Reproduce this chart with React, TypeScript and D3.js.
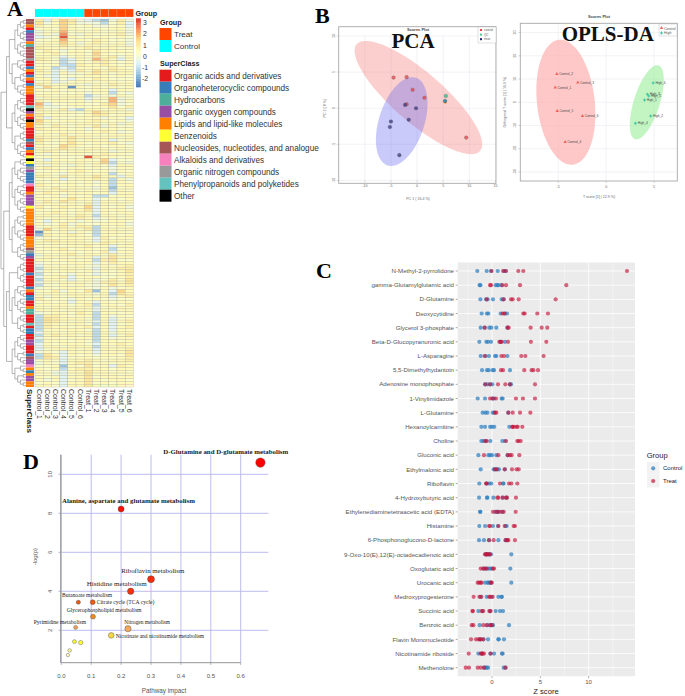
import React from "react";
import * as d3 from "d3";

// ---- Panel A data ----
const sampleNames = ["Control_1", "Control_2", "Control_3", "Control_4", "Control_5", "Control_6", "Treat_1", "Treat_2", "Treat_3", "Treat_4", "Treat_5", "Treat_6"];
const zLevels: Record<string, number> = { a: -2.3, b: -1.6, c: -1.1, d: -0.6, e: -0.15, f: 0.2, g: 0.5, h: 0.85, i: 1.15, j: 1.5, k: 1.9, l: 2.4, m: 3.0 };
// one string per metabolite, one letter per sample, letters are zLevels
const heatRows = [
  "hdgjhedcbehe", "iegjheeecfhd", "hfgjgfgeefgd", "fgfjgffgfgge", "efgkfgfgffge", "egelfegffghe", "defmgfgfgfgf", "ffgkfgfhgffe", "fggjgeghgfge", "ggfigfggfgge",
  "hgggfghgggfg", "fhgeggfigggf", "gghfggfjgffg", "ggfdfgfigheg", "hgfcdgfkhgdg", "ggfcdgfhhgfg", "gfgcchgghgfg", "ggcdcgggfhgf", "hfdfdhfighgg", "ggdgefgigfgg",
  "gedfffgggfgf", "ggdfdgfhgfff", "fgdefggfggfg", "hgfggfegfhgg", "ejggagfgfgfg", "gfgfgffggdgg", "fggffgeggcfe", "ggfgggcefegf", "fgggggdfgkef", "hfggfgegfkeg",
  "kdffggffhjef", "jeeffgfggifh", "hffhdcggfgge", "gggfgfgjhgfg", "ifggffgihfgg", "hdgffgggegfd", "jgfggfghgfge", "ifgffgggfgeg", "gfhgfgfiegff", "hgggfgegggfg",
  "fgggggfghgef", "ggfhfgggfggg", "hgggiggfggfg", "igfghfgggdfg", "hffgigfgghfe", "ggfjhgfgfggf", "gfgigfgggfgf", "ghgfgggfgefg", "gegfggfghggf", "fggfffmhggfg",
  "fdggfggfjdff", "gggfggfgjcfe", "fegfegfgfdgg", "ghgfggfgfegg", "ffgfghgfgegf", "ggfeggfggcfg", "hgfifggiggdg", "ffgdfgghgcge", "gfgfgfgegcgf", "hgfggfgfgcgg",
  "gfhfggfegbfg", "fgghgfgfgcgf", "ghgfgggfgdgg", "gfgegfgccfgg", "ggggiggdfgfg", "fhfigfgdggfg", "gggfgfhdgfgf", "hfghggjdgfge", "gfggfgidgggf", "fghgfggdgfgg",
  "ggfgfhgcggfg", "gfggghgdfgfg", "fdgfgegefggf", "gefhegffggge", "fgghfhhcgfgf", "ejfggfhcggfg", "agfgegfcgggf", "bhgghgfcggfg", "egfggggdhfgg", "fhhgggfdgggf",
  "gfgggggfhgfg", "fggfgghfgdgg", "fgghfggfgcfg", "gfgggfgfhdgg", "egfghfggfhfg", "fgggfggdgigg", "ggfggfgchiff", "efgfgggdghgg", "dgfgfgfegfgh", "cgggggfdgghh",
  "dgfggfgegfgi", "cfgfegfdffgh", "dgghdgggffgh", "cggfdfgefhfi", "dgfgggfehhgi", "cffgfgfefigh", "egfgggfegefg", "gfhegfibgdjg", "fggfgggegcig", "gegfgggfgdgh",
  "hfgfegfgfeff", "fgfgdggdgfgg", "ggggfghcggfh", "gfggfggdfggg", "gggfgggdgfgg", "efggfhgcggfg", "chhgfggcgegf", "cihgggfcgdfg", "cihgfgfdgdgh", "chgfggfcgdfg",
  "chggfghdgdgh", "cgggggfcgdgg", "dggfgggcgegg", "cghggfgcgdfh", "dggfgggcgegg", "cgggfgfcggfg", "dgfgggfdgghg", "dggfgggcgfgg", "dfgggfgdgggh", "egfdgggdgggi",
  "cigdgfgeggfi", "cihdfggfgfgh", "fgfdgghgfggh", "egfdghhfgfgg", "ffgbgfifgdhg", "gfgcghhggfgg", "gfedggiggfgf", "fgedfgifggfg", "gfgdggifgggg", "gegdfgigfggf",
  "fgfdggifgfgg", "ggfdggigfggf",
];
const superClassCodes = "NNLABOOOLH" + "NNNNGAABLA" + "BLABLLLAAA" + "APXOLAXLLA" + "AAABNABLAZ" + "XZBGOBBBBK" + "AALOOOOZLL" + "LLLLAAAALL" + "LLNGBOAAAA" + "ABAAAABLAB" + "BAALHHAAAP" + "ABBAAOOAAA" + "BNOOKLBLOOLL";
const superClassLegend = [
  ["A", "Organic acids and derivatives", "#e41a1c"],
  ["B", "Organoheterocyclic compounds", "#377eb8"],
  ["H", "Hydrocarbons", "#4daf9a"],
  ["O", "Organic oxygen compounds", "#984ea3"],
  ["L", "Lipids and lipid-like molecules", "#ff7f00"],
  ["Z", "Benzenoids", "#ffff33"],
  ["N", "Nucleosides, nucleotides, and analogue", "#a65656"],
  ["K", "Alkaloids and derivatives", "#f781bf"],
  ["G", "Organic nitrogen compounds", "#999999"],
  ["P", "Phenylpropanoids and polyketides", "#66c2bd"],
  ["X", "Other", "#000000"],
];
const dendroTree = [
  [[[8, 6], [5, 9]], [[6, 6], [4, 6]]],
  [[[[3, 6], [5, 6]], [[5, 5], [4, 3]]], [[[4, 4], [11, 7]], [[6, 5], [3, 5]]]],
];

// ---- Panel B data ----
const pcaControl = [[-4.5, 4.24], [-2, 4.3], [-0.85, 2.55], [1.4, 1.45], [-2, 0.55], [9.4, -4.07]];
const pcaTreat = [[-2.3, 0.46], [-0.2, 0], [-5, -1.85], [-1.6, -1.6], [-5.2, -2.6], [-3.4, -6.5]];
const pcaQC = [[5.5, 1.7], [5.35, 1.0], [5.38, 0.85]];
const oplsControl: [string, number, number][] = [["Control_2", -5.14, 12.2], ["Control_3", -2.95, 8.5], ["Control_1", -5.31, 6.4], ["Control_5", -5.1, -3.75], ["Control_6", -2.47, -5.9], ["Control_4", -4.27, -17.1]];
const oplsHigh: [string, number, number][] = [["High_6", 4.9, 8.3], ["High_3", 4.3, 3.4], ["High_5", 4.44, 2.7], ["High_1", 4.0, 1], ["High_2", 4.65, -5.9], ["High_4", 3.05, -9.07]];

// ---- Panel C data ----
const metabolites = ["N-Methyl-2-pyrrolidone", "gamma-Glutamylglutamic acid", "D-Glutamine", "Deoxycytidine", "Glycerol 3-phosphate", "Beta-D-Glucopyranuronic acid", "L-Asparagine", "5,5-Dimethylhydantoin", "Adenosine monophosphate", "1-Vinylimidazole", "L-Glutamine", "Hexanoylcarnitine", "Choline", "Gluconic acid", "Ethylmalonic acid", "Riboflavin", "4-Hydroxybutyric acid", "Ethylenediaminetetraacetic acid (EDTA)", "Histamine", "6-Phosphonoglucono-D-lactone", "9-Oxo-10(E),12(E)-octadecadienoic acid", "Oxoglutaric acid", "Urocanic acid", "Medroxyprogesterone", "Succinic acid", "Benzoic acid", "Flavin Mononucleotide", "Nicotinamide riboside", "Methenolone"];
const zControl = [
  [-1.52, -0.55, -0.1, 0.59, 1.25, 1.4], [-1.28, -1.2, 0.38, 0.55, 0.65, 0.97], [-1.2, -0.62, -0.45, 0.1, 1, 1.2], [-1.07, -0.52, -0.38, 0.9, 1.34, 1.55], [-1.17, -0.75, -0.28, -0.07, 0.45, 1.6],
  [-1.31, -0.59, -0.41, -0.1, 0.85, 1.34], [-1.17, -0.66, -0.31, 0.31, 0.45, 1.59], [-1.03, -0.52, -0.34, 0.07, 0.21, 1.86], [-0.72, -0.48, -0.2, 0.03, 1.86, 1.97], [-1.48, -0.72, 0.07, 0.21, 1, 1.1],
  [-0.97, -0.69, -0.48, 0.07, 0.24, 1.69], [-1.1, -0.72, -0.2, 0, 0.24, 1.79], [-1.1, -0.9, -0.62, -0.17, 1.07, 1.34], [-1.41, -0.38, -0.2, 0, 0.45, 1.62], [-1.17, 0.17, 0.31, 0.55, 0.72, 1.34],
  [-1.31, -0.55, -0.3, -0.07, 1.17, 1.17], [-1.34, -0.52, -0.48, 0.14, 1.1, 1.5], [-1.24, -1.2, 0.34, 0.55, 0.66, 1.1], [-1.31, -0.72, 0.1, 0.62, 1.41, 1.52], [-1.34, -0.83, -0.31, 0.66, 1.41, 1.52],
  [-0.66, -0.55, -0.38, -0.28, -0.1, 2], [-0.9, -0.62, -0.38, -0.2, -0.03, 1.9], [-0.72, -0.45, -0.38, -0.2, -0.07, 2], [-1.17, -0.55, -0.03, 0.66, 0.97, 1.03], [-1.41, -1, -0.2, 0.38, 0.83, 1.14],
  [-1.28, -0.48, -0.2, -0.03, 0.1, 1.76], [-1.24, -0.9, -0.41, 0.66, 0.69, 1.24], [-1.41, -1.07, -0.17, 0.21, 1.03, 1.1], [-0.83, -0.66, -0.55, -0.41, 1.21, 1.38],
];
const zTreat = [
  [-0.05, 1.15, 1.45, 2.72, 3.24, 13.97], [-0.2, -0.1, 1.07, 1.45, 2.9, 7.69], [-0.55, 1.2, 1.97, 2.14, 2.76, 6.59], [1.1, 1.28, 3.24, 3.38, 4.69, 5.79], [-0.76, 1.6, 1.72, 4, 5.14, 5.72],
  [0.76, 0.93, 1, 1.66, 4.03, 5.62], [-0.76, 0.97, 1.24, 3.03, 3.45, 5.34], [0.93, 1.14, 3.34, 4.1, 4.28, 4.76], [-0.69, -0.2, 0.62, 1.38, 1.86, 4.45], [-0.2, 0.07, 0.41, 2.48, 3.2, 4.45],
  [0.31, 0.45, 1.69, 2.14, 2.9, 3.97], [2.1, 2.14, 2.28, 2.55, 2.66, 3.14], [-0.72, -0.55, 1.45, 2.62, 2.76, 2.97], [-0.83, 0.66, 1.62, 1.86, 2.03, 2.83], [0.31, 0.48, 1.31, 2.07, 2.55, 2.76],
  [-0.62, -0.55, 0.83, 1.76, 2, 2.62], [0.55, 0.66, 1.1, 1.45, 1.55, 2.48], [0.1, 0.45, 0.69, 0.97, 1.21, 2.45], [-0.31, -0.2, 0.66, 1.31, 2.24, 2.38], [-0.31, 0.17, 1.41, 1.59, 1.69, 2.38],
  [-0.72, -0.62, -0.55, -0.48, -0.31, -0.2], [-1.17, -0.9, -0.72, -0.55, 0.1, 0.21], [-1.48, -1.34, -1.17, -1.1, -0.14, -0.03], [-1.9, -1.31, -1.1, -0.28, -0.2, 0.07], [-2.03, -1.97, -1.07, -0.9, -0.28, -0.14],
  [-2.1, -1.93, -0.9, -0.55, -0.17, 0], [-2.17, -1.66, -1.41, -1.24, -1.17, -0.9], [-2.41, -1.17, -1.03, -0.97, -0.83, -0.14], [-2.72, -2.38, -1.48, -1.17, -0.83, 1.41],
];

// ---- Panel D data ----
const pathways: [number, number][] = [[0.666, 10.6], [0.2, 8.22], [0.3, 4.62], [0.232, 4], [0.057, 3.44], [0.105, 3.44], [0.106, 2.7], [0.048, 2.15], [0.223, 2.08], [0.167, 1.74], [0.044, 1.42], [0.065, 1.37], [0.028, 0.97], [0.022, 0.73]];
const pathwayLabels: [string, number, number, number, boolean][] = [
  ["D-Glutamine and D-glutamate metabolism", 163.3, 454, 6.85, true],
  ["Alanine, aspartate and glutamate metabolism", 62, 502.7, 6.85, true],
  ["Riboflavin metabolism", 121.3, 573.3, 6.85, false],
  ["Histidine metabolism", 86.7, 586, 7, false],
  ["Butanoate metabolism", 62, 597.3, 5.6, false],
  ["Citrate cycle (TCA cycle)", 96.7, 604, 5.6, false],
  ["Glycerophospholipid metabolism", 66.7, 611.7, 5.6, false],
  ["Pyrimidine metabolism", 33.7, 623.7, 5.6, false],
  ["Nitrogen metabolism", 124.3, 624, 5.4, false],
  ["Nicotinate and nicotinamide metabolism", 115.7, 637.7, 5.45, false],
];

const SANS = "'Liberation Sans', Arial, sans-serif";
const SERIF = "'Liberation Serif', 'Times New Roman', serif";

// ellipse through the scales: centre plus two conjugate half-axes in data units
const ellipsePath = (
  c: number[], a: number[], b: number[],
  x: d3.ScaleLinear<number, number>, y: d3.ScaleLinear<number, number>
) =>
  d3.line<number>()
    .x((t) => x(c[0] + Math.cos(t) * a[0] + Math.sin(t) * b[0]))
    .y((t) => y(c[1] + Math.cos(t) * a[1] + Math.sin(t) * b[1]))
    .curve(d3.curveLinearClosed)(d3.range(0, Math.PI * 2, 0.05)) as string;

const expandLeaves = (n: any): any => {
  if (Array.isArray(n)) return n.map(expandLeaves);
  if (n <= 1) return 1;
  return [expandLeaves(Math.floor(n / 2)), expandLeaves(Math.ceil(n / 2))];
};

const Heatmap = () => {
  const left = 35, right = 133.4, top = 19, bottom = 387;
  const x = d3.scaleBand<number>().domain(d3.range(12)).range([left, right]);
  const y = d3.scaleBand<number>().domain(d3.range(heatRows.length)).range([top, bottom]);
  const color = d3.scaleLinear<string>()
    .domain([-2.7, -1.68, -0.67, 0.35, 1.37, 2.38, 3.4])
    .range(["#4575b4", "#91bfdb", "#e0f3f8", "#ffffbf", "#fee090", "#fc8d59", "#d73027"]);
  const legendY = d3.scaleLinear().domain([-2.7, 3.4]).range([87, 18.3]);
  const classColor = new Map(superClassLegend.map((d) => [d[0], d[2]]));

  const root = d3.hierarchy<any>(expandLeaves(dendroTree), (d) => (Array.isArray(d) ? d : null));
  d3.cluster<any>().size([bottom - top, 25]).separation(() => 1)(root);

  return (
    <g fontFamily={SANS}>
      <g fill="none" stroke="#777" strokeWidth={0.55}>
        {root.links().map((l: any, i: number) => (
          <path key={i} d={`M${1 + l.source.y},${top + l.source.x}V${top + l.target.x}H${1 + l.target.y}`} />
        ))}
      </g>
      {sampleNames.map((s, j) => (
        <rect key={s} x={x(j)} y={9} width={x.bandwidth()} height={8} fill={j < 6 ? "#00ffff" : "#ff4500"} stroke="#c8c8c8" strokeWidth={0.25} />
      ))}
      {Array.from(superClassCodes).map((c, i) => (
        <rect key={i} x={26} y={y(i)} width={8} height={y.bandwidth()} fill={classColor.get(c)} />
      ))}
      {heatRows.map((row, i) =>
        Array.from(row).map((c, j) => (
          <rect key={`${i}-${j}`} x={x(j)} y={y(i)} width={x.bandwidth()} height={y.bandwidth()}
            fill={color(zLevels[c])} stroke="#b5b09a" strokeWidth={0.35} />
        ))
      )}
      <text x={135.5} y={15.5} fontSize={7.2} fontWeight="bold" fill="#222">Group</text>
      {d3.range(0, 40).map((i) => {
        const z = -2.7 + (i / 40) * 6.1;
        return <rect key={i} x={136} y={legendY(z + 6.1 / 40)} width={4.8} height={68.7 / 40 + 0.3} fill={color(z)} />;
      })}
      {[3, 2, 1, 0, -1, -2].map((t) => (
        <text key={t} x={t < 0 ? 142 : 143} y={legendY(t)} dy="0.35em" fontSize={6.8} fill="#333">{t}</text>
      ))}
      <text x={160} y={24.5} fontSize={7.2} fontWeight="bold" fill="#222">Group</text>
      {[["Treat", "#ff4500"], ["Control", "#00ffff"]].map((d, i) => (
        <g key={d[0]}>
          <rect x={159.5} y={28 + i * 12} width={12} height={12} fill={d[1]} />
          <text x={174} y={34 + i * 12} dy="0.35em" fontSize={8.1} fill="#333">{d[0]}</text>
        </g>
      ))}
      <text x={160} y={66} fontSize={7.2} fontWeight="bold" fill="#222">SuperClass</text>
      {superClassLegend.map((d, i) => (
        <g key={d[0]}>
          <rect x={159.5} y={69.7 + i * 12} width={12} height={12} fill={d[2]} />
          <text x={174} y={75.7 + i * 12} dy="0.35em" fontSize={8.2} fill="#333">{d[1]}</text>
        </g>
      ))}
      <text transform="translate(30,389) rotate(90)" dy="0.35em" fontSize={8} fontWeight="bold" fill="#222">SuperClass</text>
      {sampleNames.map((s, j) => (
        <text key={s} transform={`translate(${x(j)! + x.bandwidth() / 2},389) rotate(90)`} dy="0.35em" fontSize={6.9} fill="#333">{s}</text>
      ))}
    </g>
  );
};

const ScoreFrame = ({ x, y, xTicks, yTicks, title, xLabel, yLabel, titleX, labelX, labelY, yLabelX }: any) => {
  const [x0, x1] = x.range();
  const [y1, y0] = y.range();
  return (
    <g fontFamily={SANS} fill="#666">
      <rect x={x0} y={y0} width={x1 - x0} height={y1 - y0} fill="#fff" />
      {xTicks.map((t: number) => <line key={t} x1={x(t)} x2={x(t)} y1={y0} y2={y1} stroke="#ececf2" strokeWidth={0.7} />)}
      {yTicks.map((t: number) => <line key={t} x1={x0} x2={x1} y1={y(t)} y2={y(t)} stroke="#ececf2" strokeWidth={0.7} />)}
      {xTicks.map((t: number) => (
        <g key={t}>
          <line x1={x(t)} x2={x(t)} y1={y1} y2={y1 + 2} stroke="#999" strokeWidth={0.4} />
          <text x={x(t)} y={y1 + 7} textAnchor="middle" fontSize={3.6}>{t}</text>
        </g>
      ))}
      {yTicks.map((t: number) => (
        <g key={t}>
          <line x1={x0 - 2} x2={x0} y1={y(t)} y2={y(t)} stroke="#999" strokeWidth={0.4} />
          <text transform={`translate(${x0 - 4},${y(t)}) rotate(-90)`} textAnchor="middle" fontSize={3.6}>{t}</text>
        </g>
      ))}
      <text x={titleX} y={y0 - 5.5} textAnchor="middle" fontSize={4} fontWeight="bold" fill="#444">{title}</text>
      <text x={labelX} y={labelY} textAnchor="middle" fontSize={3.6}>{xLabel}</text>
      <text transform={`translate(${yLabelX},${(y0 + y1) / 2}) rotate(-90)`} textAnchor="middle" fontSize={3.6}>{yLabel}</text>
    </g>
  );
};

const PcaPlot = () => {
  const x = d3.scaleLinear().domain([-15, 15.1]).range([338.7, 496]);
  const y = d3.scaleLinear().domain([-10, 10]).range([180.4, 36]);
  return (
    <g>
      <ScoreFrame x={x} y={y} xTicks={[-10, -5, 0, 5, 10, 15]} yTicks={[-10, -5, 0, 5, 10]} title="Scores Plot"
        xLabel="PC 1 ( 16.4 %)" yLabel="PC 2 ( 8 %)" titleX={418} labelX={418} labelY={200} yLabelX={326} />
      <path d={ellipsePath([0.25, 1.48], [11.8, -7.39], [3.13, 2.63], x, y)} fill="#f47a74" fillOpacity={0.36} />
      <path d={ellipsePath([-2.94, -1.85], [-2.71, -6.07], [4.13, -0.97], x, y)} fill="#6a6af0" fillOpacity={0.36} />
      {pcaControl.map((d, i) => <circle key={i} cx={x(d[0])} cy={y(d[1])} r={1.8} fill="#e8434a" fillOpacity={0.75} stroke="#555" strokeWidth={0.3} />)}
      {pcaTreat.map((d, i) => <circle key={i} cx={x(d[0])} cy={y(d[1])} r={1.8} fill="#3a3a80" fillOpacity={0.75} stroke="#444" strokeWidth={0.3} />)}
      <circle cx={x(pcaQC[2][0])} cy={y(pcaQC[2][1])} r={1.8} fill="#f59a3c" />
      <circle cx={x(pcaQC[1][0])} cy={y(pcaQC[1][1])} r={1.8} fill="#2f8fb0" stroke="#444" strokeWidth={0.3} />
      <circle cx={x(pcaQC[0][0])} cy={y(pcaQC[0][1])} r={1.8} fill="#52c898" stroke="#555" strokeWidth={0.3} />
      <rect x={x.range()[0]} y={26.7} width={x.range()[1] - x.range()[0]} height={156.6} fill="none" stroke="#a8a8a8" strokeWidth={0.9} />
      <g fontFamily={SANS} fontSize={3} fill="#555">
        <rect x={478} y={27} width={18} height={16} fill="#fff" stroke="#999" strokeWidth={0.3} />
        {[["control", "#e8434a"], ["QC", "#52c898"], ["treat", "#22226e"]].map((d, i) => (
          <g key={d[0]}>
            <rect x={480} y={29 + i * 4.6} width={2} height={2} fill={d[1]} />
            <text x={484} y={31 + i * 4.6}>{d[0]}</text>
          </g>
        ))}
      </g>
      <text x={391.5} y={48} fontFamily={SERIF} fontWeight="bold" fontSize={21} fill="#111">PCA</text>
    </g>
  );
};

const OplsPlot = () => {
  const x = d3.scaleLinear().domain([-8.95, 7.42]).range([520.3, 677.3]);
  const y = d3.scaleLinear().domain([-33.9, 34]).range([181, 23.3]);
  const triangle = d3.symbol().type(d3.symbolTriangle).size(5);
  return (
    <g>
      <ScoreFrame x={x} y={y} xTicks={[-5, 0, 5]} yTicks={[-30, -20, -10, 0, 10, 20, 30]} title="Scores Plot"
        xLabel="T score [1] | 12.9 %)" yLabel="Orthogonal T score [1] | 19.9 %)" titleX={599} labelX={599} labelY={198} yLabelX={506} />
      <path d={ellipsePath([-4.2, 0], [0.73, -26.9], [2.99, 1.38], x, y)} fill="#ff9a9a" fillOpacity={0.55} />
      <path d={ellipsePath([4.24, 0], [-1.215, -15.9], [1.29, -1.68], x, y)} fill="#9aee9a" fillOpacity={0.6} />
      <g fontFamily={SANS} fontSize={3.2} fill="#444">
        {oplsControl.map((d) => (
          <g key={d[0]} transform={`translate(${x(d[1])},${y(d[2])})`}>
            <path d={triangle() as string} fill="#f0645a" />
            <text x={2.3} dy="0.35em">{d[0]}</text>
          </g>
        ))}
        {oplsHigh.map((d) => (
          <g key={d[0]} transform={`translate(${x(d[1])},${y(d[2])})`}>
            <path d={d3.symbol().type(d3.symbolCross).size(5)() as string} fill="#39c6a8" />
            <text x={2.3} dy="0.35em">{d[0]}</text>
          </g>
        ))}
      </g>
      <rect x={520.3} y={23.3} width={157} height={157.7} fill="none" stroke="#a8a8a8" strokeWidth={0.9} />
      <g fontFamily={SANS} fontSize={3.6} fill="#555">
        <rect x={659} y={24} width={18} height={12} fill="#fff" stroke="#999" strokeWidth={0.3} />
        <path transform="translate(661.5,28)" d={triangle() as string} fill="#f0645a" />
        <text x={664} y={29.5}>Control</text>
        <path transform="translate(661.5,33)" d={d3.symbol().type(d3.symbolCross).size(5)() as string} fill="#39c6a8" />
        <text x={664} y={34}>High</text>
      </g>
      <text x={561.7} y={40.7} fontFamily={SERIF} fontWeight="bold" fontSize={21} fill="#111">OPLS-DA</text>
    </g>
  );
};

const ZScorePlot = () => {
  const x = d3.scaleLinear().domain([-3.55, 14.8]).range([457.7, 635]);
  const y = d3.scalePoint<string>().domain(metabolites).range([271, 667.7]);
  const top = 262.5, bottom = 676.2;
  return (
    <g fontFamily={SANS}>
      <rect x={457.7} y={top} width={177.3} height={bottom - top} fill="#ebebeb" />
      {[-2.5, 2.5, 7.5, 12.5].map((t) => <line key={t} x1={x(t)} x2={x(t)} y1={top} y2={bottom} stroke="#fff" strokeWidth={0.4} />)}
      {[0, 5, 10].map((t) => <line key={t} x1={x(t)} x2={x(t)} y1={top} y2={bottom} stroke="#fff" strokeWidth={0.8} />)}
      {metabolites.map((m) => <line key={m} x1={457.7} x2={635} y1={y(m)} y2={y(m)} stroke="#fff" strokeWidth={0.8} />)}
      {metabolites.map((m, i) => (
        <g key={m}>
          {zControl[i].map((v, k) => <circle key={k} cx={x(v)} cy={y(m)} r={2.1} fill="#2f80c0" fillOpacity={0.72} />)}
          {zTreat[i].map((v, k) => <circle key={k} cx={x(v)} cy={y(m)} r={2.1} fill="#c4153c" fillOpacity={0.65} />)}
          <line x1={455.7} x2={457.7} y1={y(m)} y2={y(m)} stroke="#555" strokeWidth={0.5} />
          <text x={454} y={y(m)} dy="0.35em" textAnchor="end" fontSize={6.15} fill="#555">{m}</text>
        </g>
      ))}
      {[0, 5, 10].map((t) => (
        <g key={t}>
          <line x1={x(t)} x2={x(t)} y1={bottom} y2={bottom + 2} stroke="#555" strokeWidth={0.5} />
          <text x={x(t)} y={682} dy="0.35em" textAnchor="middle" fontSize={6} fill="#555">{t}</text>
        </g>
      ))}
      <text x={546} y={691} dy="0.35em" textAnchor="middle" fontSize={7.6} fill="#222">Z score</text>
      <text x={646.7} y={458} fontSize={7.6} fill="#222">Group</text>
      {[["Control", "#2f80c0", 0.75], ["Treat", "#c4153c", 0.7]].map((d: any, i) => (
        <g key={d[0]}>
          <rect x={647} y={462 + i * 12.7} width={12.5} height={12.7} fill="#f2f2f2" />
          <circle cx={653.2} cy={468.3 + i * 12.7} r={2.1} fill={d[1]} fillOpacity={d[2]} />
          <text x={663} y={468.3 + i * 12.7} dy="0.35em" fontSize={6} fill="#222">{d[0]}</text>
        </g>
      ))}
    </g>
  );
};

const PathwayPlot = () => {
  const x = d3.scaleLinear().domain([0, 0.6]).range([61.3, 240.7]);
  const y = d3.scaleLinear().domain([2, 10]).range([630.3, 474.3]);
  const radius = d3.scaleSqrt().domain([0, 0.67]).range([1, 4.7]);
  const heat = d3.scaleLinear<string>()
    .domain([0.7, 1.4, 2.1, 2.7, 3.44, 4, 10])
    .range(["#fff9c4", "#ffff33", "#f4a460", "#f08a24", "#f05a10", "#f53010", "#ff0000"]);
  const xTicks = [0, 0.1, 0.2, 0.3, 0.4, 0.5, 0.6];
  const yTicks = [2, 4, 6, 8, 10];
  return (
    <g fontFamily={SANS}>
      {xTicks.map((t) => <line key={t} x1={x(t)} x2={x(t)} y1={454.7} y2={662.7} stroke="#bcbcee" strokeWidth={1} />)}
      {yTicks.map((t) => <line key={t} x1={60.7} x2={268.3} y1={y(t)} y2={y(t)} stroke="#bcbcee" strokeWidth={1} />)}
      <line x1={60.7} x2={60.7} y1={454.7} y2={663} stroke="#777" strokeWidth={0.8} />
      <line x1={61.3} x2={240.7} y1={662.7} y2={662.7} stroke="#777" strokeWidth={0.8} />
      {xTicks.map((t) => (
        <g key={t}>
          <line x1={x(t)} x2={x(t)} y1={662.7} y2={665} stroke="#777" strokeWidth={0.5} />
          <text x={x(t)} y={675.7} dy="0.35em" textAnchor="middle" fontSize={6} fill="#555">{t.toFixed(1)}</text>
        </g>
      ))}
      {yTicks.map((t) => (
        <g key={t}>
          <line x1={58.5} x2={60.7} y1={y(t)} y2={y(t)} stroke="#777" strokeWidth={0.5} />
          <text transform={`translate(50,${y(t)}) rotate(-90)`} dy="0.35em" textAnchor="middle" fontSize={6} fill="#555">{t}</text>
        </g>
      ))}
      <text x={164} y={690.7} dy="0.35em" textAnchor="middle" fontSize={6.3} fill="#555">Pathway impact</text>
      <text transform="translate(35,556.7) rotate(-90)" dy="0.35em" textAnchor="middle" fontSize={6} fill="#555">-log(p)</text>
      {pathways.map((d, i) => (
        <circle key={i} cx={x(d[0])} cy={y(d[1])} r={radius(d[0])} fill={heat(d[1])} stroke="#444" strokeWidth={0.4} />
      ))}
      {pathwayLabels.map((d) => (
        <text key={d[0]} x={d[1]} y={d[2]} fontSize={d[3]} fontWeight={d[4] ? "bold" : "normal"} fontFamily={SERIF} fill="#222">{d[0]}</text>
      ))}
    </g>
  );
};

export default function App() {
  return (
    <svg width={685} height={696} viewBox="0 0 685 696" style={{ position: "absolute", left: 0, top: 0, display: "block", background: "#fff" }}>
      <Heatmap />
      <PcaPlot />
      <OplsPlot />
      <ZScorePlot />
      <PathwayPlot />
      <g fontFamily={SERIF} fontWeight="bold" fontSize={22} fill="#000">
        <text x={7} y={16}>A</text>
        <text x={315} y={23}>B</text>
        <text x={316} y={278}>C</text>
        <text x={23} y={469}>D</text>
      </g>
    </svg>
  );
}
